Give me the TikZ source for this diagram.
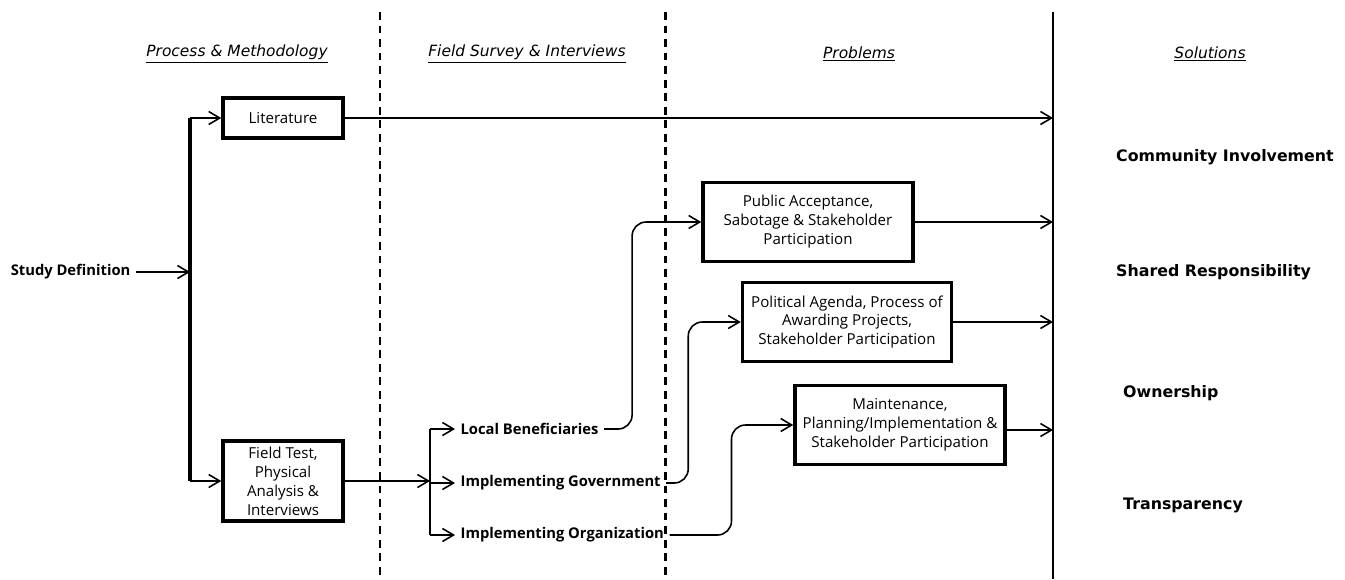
\documentclass[tikz,border=0pt]{standalone}
\usepackage{fontspec}
\setmainfont{Open Sans}
\newfontfamily\headf{DejaVu Sans}
\usepackage{tikz}
\usetikzlibrary{arrows.meta}

\begin{document}
\begin{tikzpicture}[x=0.02cm,y=-0.02cm,
  pbox/.style={draw,line width=2pt,fill=white,align=center,font=\fontsize{8.6}{10.8}\selectfont,inner sep=2pt},
  lbl/.style={anchor=west,font=\fontsize{8.4}{10}\selectfont\bfseries,inner sep=3pt},
  hd/.style={font=\headf\itshape\fontsize{8.8}{10}\selectfont},
  sol/.style={anchor=west,font=\headf\bfseries\fontsize{9}{10}\selectfont},
  arr/.style={-{Straight Barb[length=2.2mm,width=2.6mm]},line width=0.9pt},
  divd/.style={line width=1.7pt,dash pattern=on 4.5pt off 3.2pt}]
\useasboundingbox (0,0) rectangle (1345,579);
% column dividers
\draw[divd] (380,12) -- (380,579);\draw[divd] (665,12) -- (665,579);\draw[line width=1.3pt] (1053,12) -- (1053,579);
% headings
\node[hd] (h1) at (237,54) {\underline{Process \& Methodology}};\node[hd] (h2) at (527,54) {\underline{Field Survey \& Interviews}};
\node[hd] (h3) at (859,54) {\underline{Problems}};\node[hd] (h4) at (1210,54) {\underline{Solutions}};
% process
\node[lbl,anchor=east] (sdef) at (136,272) {Study Definition};
\node[pbox,minimum width=2.4cm,minimum height=0.8cm] (lit) at (283,118) {Literature};
\node[pbox,minimum width=2.4cm,minimum height=1.6cm] (ftest) at (283,481) {Field Test,\\ Physical\\ Analysis \&\\ Interviews};
\coordinate (j1) at (190,118);\coordinate (j2) at (190,481);
\draw[line width=2.4pt] (j1) -- (j2);
\draw[arr] (sdef) -- (sdef -| j1);\draw[arr] (j1) -- (lit);\draw[arr] (j2) -- (ftest);
% field survey
\coordinate (k1) at (430,429);\coordinate (k3) at (430,535);
\node[lbl] (lben) at (455,429) {Local Beneficiaries};\node[lbl] (igov) at (455,483) {Implementing Government};\node[lbl] (iorg) at (455,535) {Implementing Organization};
\draw[arr] (ftest) -- (ftest -| k1);\draw[line width=1.4pt] (k1) -- (k3);
\draw[arr] (k1) -- (lben);\draw[arr] (igov -| k1) -- (igov);\draw[arr] (k3) -- (iorg);
% problems
\node[pbox,minimum width=4.2cm,minimum height=1.58cm] (pacc) at (808,222) {Public Acceptance,\\ Sabotage \& Stakeholder\\ Participation};
\node[pbox,minimum width=4.18cm,minimum height=1.58cm] (ppol) at (847,322) {Political Agenda, Process of\\ Awarding Projects,\\ Stakeholder Participation};
\node[pbox,minimum width=4.2cm,minimum height=1.58cm] (pmnt) at (900,425) {Maintenance,\\ Planning/Implementation \&\\ Stakeholder Participation};
\draw[arr,rounded corners=8pt] (lben.east) -- ++(28,0) |- (pacc.west);
\draw[arr,rounded corners=8pt] (igov.east) -- ++(22,0) |- (ppol.west);
\draw[arr,rounded corners=8pt] (iorg.east) -- ++(62,0) |- (pmnt.west);
% solutions
\coordinate (e1) at (1053,118);\coordinate (e2) at (1053,222);\coordinate (e3) at (1053,322);\coordinate (e4) at (1053,430);
\draw[arr] (lit) -- (e1);\draw[arr] (pacc) -- (e2);\draw[arr] (ppol) -- (e3);\draw[arr] (pmnt.east |- e4) -- (e4);
\node[sol] (s1) at (1110,157) {Community Involvement};\node[sol] (s2) at (1110,272) {Shared Responsibility};
\node[sol] (s3) at (1117,393) {Ownership};\node[sol] (s4) at (1117,505) {Transparency};
\end{tikzpicture}
\end{document}
